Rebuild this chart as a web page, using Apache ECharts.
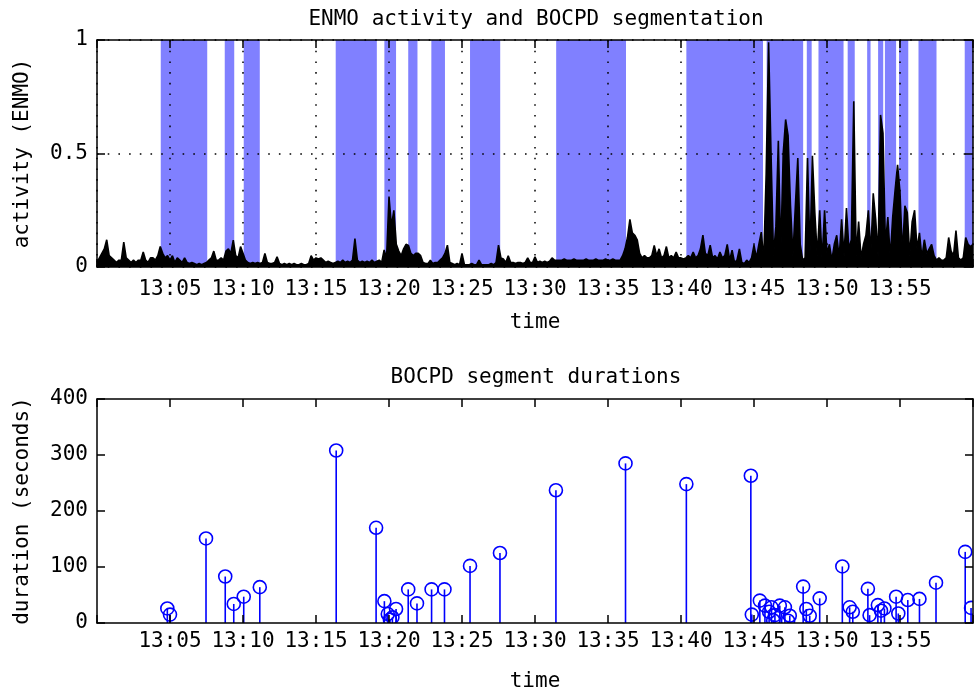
<!DOCTYPE html>
<html>
<head>
<meta charset="utf-8">
<script src="https://cdn.jsdelivr.net/npm/echarts@6/dist/echarts.min.js"></script>
<style>
  html, body { margin: 0; padding: 0; background: #fff; }
  #chart { width: 976px; height: 693px; }
</style>
</head>
<body>
<div id="chart"></div>
<script>
// ---- data (time in seconds after 13:00:00) ----
const xTickLabels = ['', '13:05', '13:10', '13:15', '13:20', '13:25', '13:30', '13:35', '13:40', '13:45', '13:50', '13:55', ''];
const sampleStep = 10; // seconds between activity samples
const activity = [
  0.02, 0.04, 0.06, 0.08, 0.12, 0.05, 0.04, 0.03, 0.02, 0.03,
  0.03, 0.11, 0.04, 0.03, 0.02, 0.03, 0.02, 0.03, 0.03, 0.066,
  0.03, 0.02, 0.04, 0.04, 0.03, 0.05, 0.09, 0.06, 0.04, 0.05,
  0.03, 0.05, 0.02, 0.04, 0.03, 0.02, 0.04, 0.02, 0.015, 0.02,
  0.015, 0.01, 0.015, 0.01, 0.015, 0.02, 0.03, 0.04, 0.07, 0.03,
  0.03, 0.04, 0.03, 0.07, 0.08, 0.06, 0.118, 0.05, 0.04, 0.09,
  0.06, 0.03, 0.02, 0.015, 0.02, 0.015, 0.02, 0.015, 0.02, 0.06,
  0.02, 0.015, 0.015, 0.02, 0.045, 0.015, 0.01, 0.015, 0.01, 0.015,
  0.01, 0.015, 0.01, 0.01, 0.015, 0.01, 0.01, 0.015, 0.05, 0.03,
  0.04, 0.035, 0.04, 0.03, 0.02, 0.025, 0.02, 0.015, 0.02, 0.025,
  0.02, 0.03, 0.02, 0.025, 0.02, 0.03, 0.125, 0.03, 0.02, 0.025,
  0.02, 0.025, 0.02, 0.03, 0.02, 0.025, 0.03, 0.02, 0.075, 0.04,
  0.31, 0.18, 0.25, 0.1, 0.07, 0.05, 0.08, 0.1, 0.095, 0.06,
  0.05, 0.06, 0.06, 0.05, 0.02, 0.015, 0.015, 0.03, 0.015, 0.02,
  0.02, 0.03, 0.04, 0.06, 0.096, 0.02, 0.015, 0.01, 0.015, 0.01,
  0.06, 0.01, 0.01, 0.01, 0.015, 0.01, 0.01, 0.03, 0.01, 0.01,
  0.01, 0.01, 0.015, 0.01, 0.02, 0.096, 0.04, 0.035, 0.02, 0.05,
  0.02, 0.02, 0.015, 0.02, 0.02, 0.015, 0.02, 0.04, 0.02, 0.02,
  0.045, 0.02, 0.025, 0.02, 0.025, 0.02, 0.025, 0.04, 0.03, 0.03,
  0.03, 0.03, 0.035, 0.03, 0.03, 0.03, 0.035, 0.03, 0.03, 0.03,
  0.03, 0.035, 0.03, 0.03, 0.03, 0.035, 0.03, 0.03, 0.03, 0.035,
  0.03, 0.03, 0.035, 0.03, 0.03, 0.03, 0.05, 0.08, 0.13, 0.21,
  0.15, 0.14, 0.12, 0.06, 0.04, 0.05, 0.04, 0.04, 0.05, 0.095,
  0.05, 0.08, 0.04, 0.05, 0.09, 0.04, 0.05, 0.04, 0.066, 0.04,
  0.04, 0.035, 0.04, 0.05, 0.04, 0.066, 0.04, 0.05, 0.08, 0.14,
  0.06, 0.05, 0.096, 0.04, 0.05, 0.035, 0.066, 0.04, 0.05, 0.1,
  0.03, 0.074, 0.02, 0.03, 0.08, 0.02, 0.015, 0.03, 0.02, 0.04,
  0.096, 0.04, 0.1, 0.154, 0.03, 0.41, 0.99, 0.5, 0.05, 0.18,
  0.556, 0.06, 0.5, 0.65, 0.58, 0.27, 0.05, 0.27, 0.48, 0.1,
  0.03, 0.04, 0.48, 0.06, 0.49, 0.24, 0.05, 0.25, 0.03, 0.25,
  0.06, 0.1, 0.03, 0.1, 0.14, 0.04, 0.21, 0.05, 0.26, 0.08,
  0.12, 0.73, 0.05, 0.2, 0.04, 0.1, 0.14, 0.25, 0.06, 0.325,
  0.21, 0.05, 0.67, 0.59, 0.1, 0.22, 0.04, 0.22, 0.34, 0.45,
  0.33, 0.06, 0.27, 0.24, 0.05, 0.2, 0.25, 0.08, 0.15, 0.04,
  0.12, 0.06, 0.08, 0.1, 0.05, 0.03, 0.04, 0.03, 0.03, 0.04,
  0.13, 0.07, 0.05, 0.16, 0.04, 0.03, 0.04, 0.13, 0.1, 0.09,
  0.1
];
// shaded (blue) segments: start / end in seconds
const bandStart = [262, 525, 603, 981, 1181, 1279, 1374, 1533, 1887, 2422, 2752, 2917, 2965, 3085, 3165, 3210, 3238, 3296, 3376, 3566];
const bandEnd   = [453, 564, 669, 1150, 1229, 1317, 1430, 1657, 2174, 2737, 2902, 2937, 3068, 3114, 3179, 3231, 3284, 3334, 3450, 3600];
// change points (seconds) and preceding segment durations (seconds)
const changeTimes = [289, 300, 448, 527, 562, 603, 669, 983, 1147, 1181, 1195, 1204, 1214, 1229, 1279, 1315, 1375, 1428, 1533, 1656, 1886, 2172, 2422,
  2687, 2691, 2724, 2745, 2762, 2772, 2779, 2786, 2806, 2827, 2840, 2847, 2902, 2915, 2929, 2970, 3063, 3093, 3106, 3168, 3175, 3209, 3222, 3236,
  3284, 3293, 3332, 3380, 3448, 3568, 3592];
const durations = [26, 15, 151, 83, 34, 47, 64, 308, 170, 39, 16, 6, 10, 25, 60, 35, 60, 60, 102, 125, 237, 285, 248,
  263, 15, 40, 31, 20, 28, 5, 14, 31, 28, 4, 13, 65, 25, 13, 44, 101, 28, 20, 61, 14, 32, 22, 26,
  47, 17, 41, 43, 72, 127, 27];

// ---- chart ----
const FONT = 'DejaVu Sans Mono';
const FS = 21;
const BLACK = '#000';
const txt = { fontFamily: FONT, fontSize: FS, color: BLACK };
const dotted = { color: BLACK, width: 1.5, type: [1.6, 9.1] };

function xAxisPair(gridIndex, withGrid, labelMargin, nameGap) {
  return [
    {
      gridIndex, type: 'value', min: 0, max: 3600, interval: 300, position: 'bottom', z: 3,
      axisLine: { show: true, onZero: false, lineStyle: { color: BLACK, width: 1.5 } },
      axisTick: { show: true, inside: true, length: 8, lineStyle: { color: BLACK, width: 1.5 } },
      axisLabel: Object.assign({ margin: labelMargin, formatter: v => xTickLabels[Math.round(v / 300)] }, txt),
      splitLine: { show: withGrid, lineStyle: dotted },
      name: 'time', nameLocation: 'middle', nameGap, nameTextStyle: txt
    },
    {
      gridIndex, type: 'value', min: 0, max: 3600, interval: 300, position: 'top', z: 3,
      axisLine: { show: true, onZero: false, lineStyle: { color: BLACK, width: 1.5 } },
      axisTick: { show: true, inside: true, length: 8, lineStyle: { color: BLACK, width: 1.5 } },
      axisLabel: { show: false }, splitLine: { show: false }
    }
  ];
}
function yAxisPair(gridIndex, max, interval, name, withGrid) {
  return [
    {
      gridIndex, type: 'value', min: 0, max, interval, position: 'left', z: 3,
      axisLine: { show: true, onZero: false, lineStyle: { color: BLACK, width: 1.5 } },
      axisTick: { show: true, inside: true, length: 8, lineStyle: { color: BLACK, width: 1.5 } },
      axisLabel: Object.assign({ margin: 9 }, txt),
      splitLine: { show: withGrid, lineStyle: dotted },
      name, nameLocation: 'middle', nameGap: 64, nameRotate: 90, nameTextStyle: txt
    },
    {
      gridIndex, type: 'value', min: 0, max, interval, position: 'right', z: 3,
      axisLine: { show: true, onZero: false, lineStyle: { color: BLACK, width: 1.5 } },
      axisTick: { show: true, inside: true, length: 8, lineStyle: { color: BLACK, width: 1.5 } },
      axisLabel: { show: false }, splitLine: { show: false }
    }
  ];
}

const chart = echarts.init(document.getElementById('chart'), null, { renderer: 'canvas' });
chart.setOption({
  animation: false,
  backgroundColor: '#fff',
  title: [
    { text: 'ENMO activity and BOCPD segmentation', left: 536, top: 9, textAlign: 'center', padding: 0,
      textStyle: Object.assign({ fontWeight: 'normal' }, txt) },
    { text: 'BOCPD segment durations', left: 536, top: 367, textAlign: 'center', padding: 0,
      textStyle: Object.assign({ fontWeight: 'normal' }, txt) }
  ],
  grid: [
    { left: 97, right: 1, top: 40, height: 227 },
    { left: 97, right: 1, top: 399, height: 227 }
  ],
  xAxis: [...xAxisPair(0, true, 12, 45), ...xAxisPair(1, false, 8, 48)],
  yAxis: [...yAxisPair(0, 1, 0.5, 'activity (ENMO)', true), ...yAxisPair(1, 400, 100, 'duration (seconds)', false)],
  series: [
    {
      type: 'custom', name: 'segments', xAxisIndex: 0, yAxisIndex: 0, z: 1, clip: true,
      data: bandStart.map((s, i) => [s, bandEnd[i]]),
      encode: { x: [0, 1] },
      renderItem: (params, api) => {
        const a = api.coord([api.value(0), 1]);
        const b = api.coord([api.value(1), 0]);
        return { type: 'rect', shape: { x: a[0], y: a[1], width: b[0] - a[0], height: b[1] - a[1] },
          style: { fill: '#8080ff' } };
      }
    },
    {
      type: 'line', name: 'ENMO', xAxisIndex: 0, yAxisIndex: 0, z: 2,
      data: activity.map((v, i) => [i * sampleStep, v]),
      showSymbol: false, symbol: 'none',
      lineStyle: { color: BLACK, width: 1.6 },
      areaStyle: { color: BLACK, opacity: 1, origin: 'start' }
    },
    {
      type: 'custom', name: 'durations', xAxisIndex: 2, yAxisIndex: 2, z: 2, clip: true,
      data: changeTimes.map((t, i) => [t, durations[i]]),
      encode: { x: 0, y: 1 },
      renderItem: (params, api) => {
        const p0 = api.coord([api.value(0), 0]);
        const p1 = api.coord([api.value(0), api.value(1)]);
        return {
          type: 'group',
          children: [
            { type: 'line', shape: { x1: p0[0], y1: p0[1], x2: p1[0], y2: p1[1] },
              style: { stroke: '#0000ff', lineWidth: 1.6 } },
            { type: 'circle', shape: { cx: p1[0], cy: p1[1], r: 6.5 },
              style: { fill: null, stroke: '#0000ff', lineWidth: 1.6 } }
          ]
        };
      }
    }
  ]
});
</script>
</body>
</html>
